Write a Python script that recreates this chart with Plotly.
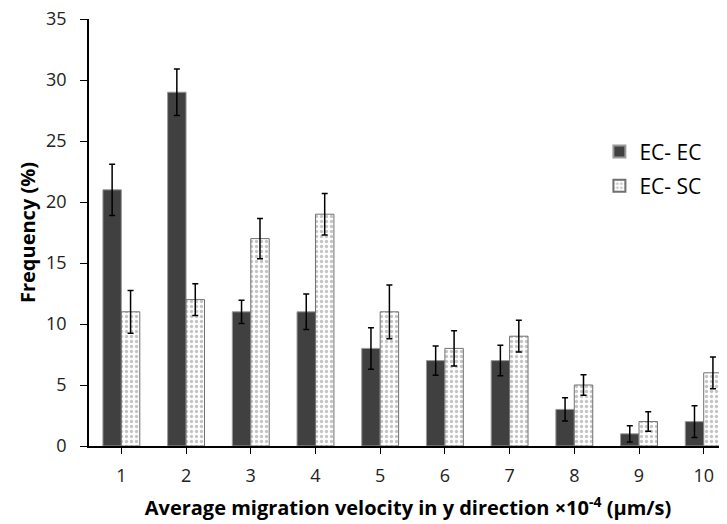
import plotly.graph_objects as go

categories = [1, 2, 3, 4, 5, 6, 7, 8, 9, 10]
ec_ec = [21, 29, 11, 11, 8, 7, 7, 3, 1, 2]
ec_ec_err = [2.1, 1.9, 0.95, 1.45, 1.7, 1.2, 1.25, 0.95, 0.67, 1.3]
ec_sc = [11, 12, 17, 19, 11, 8, 9, 5, 2, 6]
ec_sc_err = [1.75, 1.3, 1.65, 1.7, 2.2, 1.45, 1.3, 0.83, 0.8, 1.3]

FONT = "Open Sans"

fig = go.Figure()
fig.add_trace(go.Bar(
    x=categories, y=ec_ec, name="EC- EC", legendgroup="a",
    marker=dict(color="#404040", line=dict(color="#9a9a9a", width=1)),
    error_y=dict(type="data", array=ec_ec_err, color="black", thickness=1.5, width=3),
))
fig.add_trace(go.Bar(
    x=categories, y=ec_sc, name="EC- SC", legendgroup="b",
    marker=dict(color="white", line=dict(color="#707070", width=1),
                pattern=dict(shape=".", fgcolor="#8a8a8a", bgcolor="white", size=5, solidity=0.35)),
    error_y=dict(type="data", array=ec_sc_err, color="black", thickness=1.5, width=3),
))

fig.update_layout(
    width=727, height=524,
    margin=dict(l=81, r=8, t=11, b=86, autoexpand=False),
    paper_bgcolor="white", plot_bgcolor="white",
    barmode="group", bargap=0.43, bargroupgap=0,
    font=dict(family=FONT, color="black"),
    legend=dict(x=0.80, y=0.737, xanchor="left", yanchor="top",
                font=dict(size=21, family=FONT), bgcolor="rgba(0,0,0,0)",
                itemsizing="constant", tracegroupgap=4),
    xaxis=dict(
        range=[0.5, 10.36], tickmode="array", tickvals=categories,
        ticktext=[str(c) for c in categories],
        tickson="boundaries", ticks="outside", ticklen=6, tickcolor="black",
        showline=True, linecolor="black", linewidth=1.5,
        showgrid=False, zeroline=False, automargin=False,
        ticklabelstandoff=7, ticklabeloverflow="allow",
        tickfont=dict(size=18, family=FONT, color="#222"),
        title=dict(text="<b>Average migration velocity in y direction ×10<sup>-4</sup> (μm/s)</b>",
                   font=dict(size=20, family=FONT), standoff=15),
    ),
    yaxis=dict(
        range=[0, 35], tickvals=[0, 5, 10, 15, 20, 25, 30, 35],
        ticks="outside", ticklen=7, tickcolor="black",
        showline=True, linecolor="black", linewidth=1.5,
        showgrid=False, zeroline=False, automargin=False,
        ticklabelstandoff=10, ticklabeloverflow="allow",
        tickfont=dict(size=18, family=FONT, color="#222"),
        title=dict(text="<b>Frequency (%)</b>", font=dict(size=20, family=FONT), standoff=5),
    ),
)

fig.write_html("out.html")
